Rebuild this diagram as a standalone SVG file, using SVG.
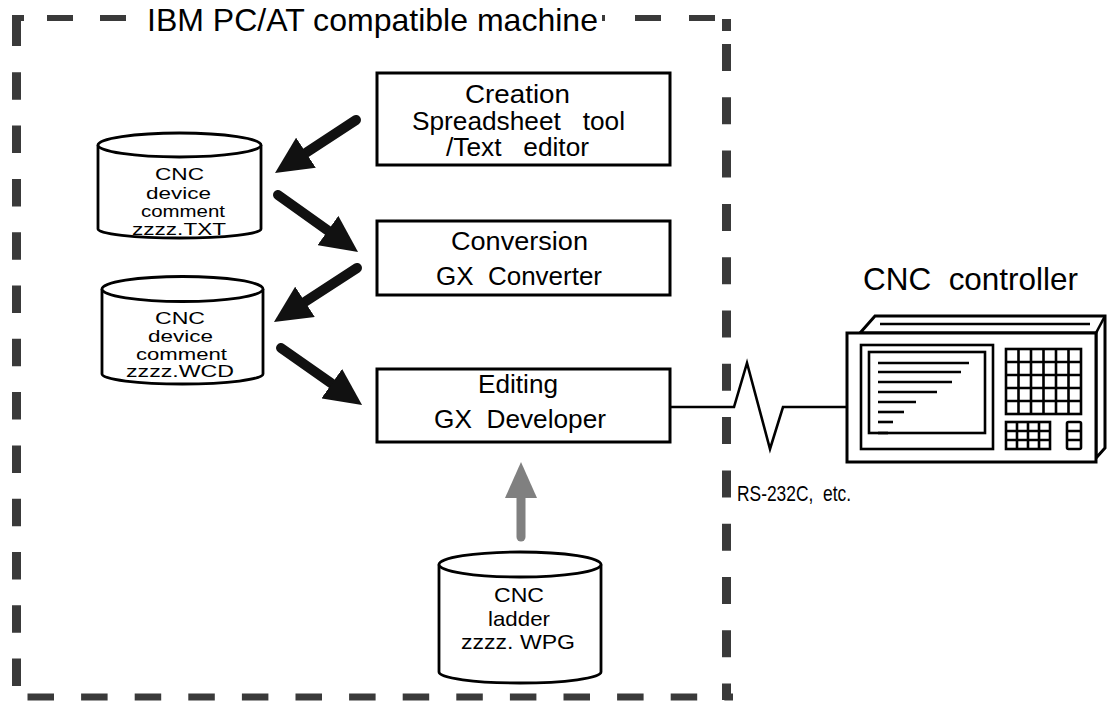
<svg xmlns="http://www.w3.org/2000/svg" width="1107" height="707" viewBox="0 0 1107 707">
  <style>
    text { font-family: "Liberation Sans", Arial, sans-serif; fill: #000; }
    .frame { fill: none; stroke: #3a3a3a; }
    .box { fill: #fff; stroke: #000; stroke-width: 3; }
    .cyl { fill: #fff; stroke: #000; stroke-width: 2.8; }
    .boxtxt { font-size: 25px; }
    .cyltxt { font-size: 16.5px; }
    .flow { stroke: #111; stroke-width: 10; stroke-linecap: round; fill: none; }
    .flow-gray { stroke: #808080; stroke-width: 9; stroke-linecap: round; fill: none; }
    .hw { fill: #fff; stroke: #000; stroke-width: 3; }
    .hwl { fill: none; stroke: #000; stroke-width: 2.6; }
  </style>
  <defs>
    <marker id="head" markerUnits="userSpaceOnUse" markerWidth="37" markerHeight="36" refX="7" refY="18" orient="auto">
      <path d="M0,0 L37,18 L0,36 Z" fill="#111"/>
    </marker>
    <marker id="head-gray" markerUnits="userSpaceOnUse" markerWidth="36" markerHeight="32" refX="6" refY="16" orient="auto">
      <path d="M0,0 L36,16 L0,32 Z" fill="#808080"/>
    </marker>
  </defs>

  <rect width="1107" height="707" fill="#fff"/>

  <!-- PC boundary (dashed frame) -->
  <g id="pc-frame">
    <rect x="12" y="15" width="12" height="6" fill="#3a3a3a"/>
    <path class="frame" d="M16.5,15 V700" stroke-width="9" stroke-dasharray="31 26.3 27.5 25.8 27.5 25.8 27.5 25.8 27.5 25.8 27.5 25.8 27.5 25.8 27.5 25.8 27.5 25.8 27.5 25.8 27.5 25.8 27.5 25.8 27.5 25.8"/>
    <rect x="47" y="15" width="26" height="6" fill="#3a3a3a"/>
    <rect x="100" y="15" width="26" height="6" fill="#3a3a3a"/>
    <rect x="602" y="15" width="3" height="6" fill="#3a3a3a"/>
    <rect x="635" y="15" width="26" height="6" fill="#3a3a3a"/>
    <rect x="689" y="15" width="26" height="6" fill="#3a3a3a"/>
    <rect x="722" y="19" width="9" height="12" fill="#3a3a3a"/>
    <path class="frame" d="M726.5,44 V700" stroke-width="9" stroke-dasharray="27 26.3"/>
    <path class="frame" d="M27.5,697 H733" stroke-width="7" stroke-dasharray="26.5 27.1"/>
    <text x="147" y="31" font-size="32" textLength="451" lengthAdjust="spacingAndGlyphs">IBM PC/AT compatible machine</text>
  </g>

  <!-- connectors -->
  <g id="connectors">
    <line class="flow" x1="356" y1="120" x2="300.1" y2="156.6" marker-end="url(#head)"/>
    <line class="flow" x1="278" y1="195" x2="333.6" y2="234.6" marker-end="url(#head)"/>
    <line class="flow" x1="357" y1="268" x2="299.1" y2="305.6" marker-end="url(#head)"/>
    <line class="flow" x1="281" y1="348" x2="337.5" y2="387.7" marker-end="url(#head)"/>
    <line class="flow-gray" x1="521" y1="537" x2="521" y2="492" marker-end="url(#head-gray)"/>
    <polyline points="671,407 734,407 747,363 770,449 783,407 847,407" fill="none" stroke="#000" stroke-width="2.6" stroke-linejoin="miter"/>
    <text x="737" y="501" font-size="22" textLength="114" lengthAdjust="spacingAndGlyphs" xml:space="preserve">RS-232C,  etc.</text>
  </g>

  <!-- process boxes -->
  <g id="creation">
    <rect class="box" x="377" y="73" width="293" height="92"/>
    <text class="boxtxt" x="465" y="103" textLength="105" lengthAdjust="spacingAndGlyphs">Creation</text>
    <text class="boxtxt" x="412" y="130" textLength="213" lengthAdjust="spacingAndGlyphs" xml:space="preserve">Spreadsheet   tool</text>
    <text class="boxtxt" x="446" y="156" textLength="143" lengthAdjust="spacingAndGlyphs" xml:space="preserve">/Text   editor</text>
  </g>
  <g id="conversion">
    <rect class="box" x="377" y="221" width="293" height="74"/>
    <text class="boxtxt" x="451" y="250" textLength="137" lengthAdjust="spacingAndGlyphs">Conversion</text>
    <text class="boxtxt" x="436" y="285" textLength="166" lengthAdjust="spacingAndGlyphs" xml:space="preserve">GX  Converter</text>
  </g>
  <g id="editing">
    <rect class="box" x="377" y="369" width="293" height="73"/>
    <text class="boxtxt" x="478" y="393" textLength="80" lengthAdjust="spacingAndGlyphs">Editing</text>
    <text class="boxtxt" x="434" y="428" textLength="172" lengthAdjust="spacingAndGlyphs" xml:space="preserve">GX  Developer</text>
  </g>

  <!-- data files -->
  <g id="file-txt">
    <path class="cyl" d="M98,145 V229 A81.5,9 0 0 0 261,229 V145"/>
    <ellipse class="cyl" cx="179.5" cy="145" rx="81.5" ry="12"/>
    <text class="cyltxt" x="155" y="180" textLength="49" lengthAdjust="spacingAndGlyphs">CNC</text>
    <text class="cyltxt" x="146" y="198.5" textLength="65" lengthAdjust="spacingAndGlyphs">device</text>
    <text class="cyltxt" x="141" y="217" textLength="84" lengthAdjust="spacingAndGlyphs">comment</text>
    <text class="cyltxt" x="132" y="235" textLength="94" lengthAdjust="spacingAndGlyphs">zzzz.TXT</text>
  </g>
  <g id="file-wcd">
    <path class="cyl" d="M102,289 V374 A80.5,10 0 0 0 263,374 V289"/>
    <ellipse class="cyl" cx="182.5" cy="289" rx="80.5" ry="12.5"/>
    <text class="cyltxt" x="155" y="324" textLength="50" lengthAdjust="spacingAndGlyphs">CNC</text>
    <text class="cyltxt" x="148" y="342" textLength="65" lengthAdjust="spacingAndGlyphs">device</text>
    <text class="cyltxt" x="136" y="359.5" textLength="91" lengthAdjust="spacingAndGlyphs">comment</text>
    <text class="cyltxt" x="126" y="377" textLength="108" lengthAdjust="spacingAndGlyphs">zzzz.WCD</text>
  </g>
  <g id="file-wpg">
    <path class="cyl" d="M439,564.5 V672 A81,11 0 0 0 601,672 V564.5"/>
    <ellipse class="cyl" cx="520" cy="564.5" rx="81" ry="12.5"/>
    <text x="494" y="602" font-size="21" textLength="50" lengthAdjust="spacingAndGlyphs">CNC</text>
    <text x="488" y="626" font-size="21" textLength="62" lengthAdjust="spacingAndGlyphs">ladder</text>
    <text x="461" y="649" font-size="21" textLength="114" lengthAdjust="spacingAndGlyphs" xml:space="preserve">zzzz. WPG</text>
  </g>

  <!-- CNC controller unit -->
  <g id="cnc-controller">
    <text x="863" y="290" font-size="32" textLength="215" lengthAdjust="spacingAndGlyphs" xml:space="preserve">CNC  controller</text>
    <path class="hw" d="M860,333 L875,316 H1105 V448 L1096,458 V333 Z"/>
    <line class="hwl" x1="1105" y1="316" x2="1096" y2="333"/>
    <line class="hwl" x1="880" y1="324" x2="1090" y2="324"/>
    <rect class="hw" x="847" y="333" width="249" height="129"/>
    <rect class="hwl" x="861" y="345" width="132" height="104"/>
    <rect class="hwl" x="869" y="352" width="116" height="81"/>
    <g class="hwl">
      <line x1="878" y1="363" x2="969" y2="363"/>
      <line x1="878" y1="372" x2="961" y2="372"/>
      <line x1="878" y1="382" x2="952" y2="382"/>
      <line x1="878" y1="392" x2="937" y2="392"/>
      <line x1="878" y1="402" x2="916" y2="402"/>
      <line x1="878" y1="412" x2="904" y2="412"/>
      <line x1="878" y1="422" x2="893" y2="422"/>
      <line x1="878" y1="433" x2="888" y2="433"/>
    </g>
    <!-- main keypad 6x5 -->
    <rect class="hwl" x="1006" y="349" width="75" height="65"/>
    <path class="hwl" d="M1018.5,349 V414 M1031,349 V414 M1043.5,349 V414 M1056,349 V414 M1068.5,349 V414 M1006,362 H1081 M1006,375 H1081 M1006,388 H1081 M1006,401 H1081"/>
    <!-- sub keypad 4x3 -->
    <rect class="hwl" x="1006" y="422" width="44" height="27"/>
    <path class="hwl" d="M1017,422 V449 M1028,422 V449 M1039,422 V449 M1006,431 H1050 M1006,440 H1050"/>
    <!-- side keys -->
    <rect class="hwl" x="1067" y="422" width="14" height="27" rx="1.5"/>
    <path class="hwl" d="M1067,431 H1081 M1067,440 H1081"/>
  </g>
</svg>
